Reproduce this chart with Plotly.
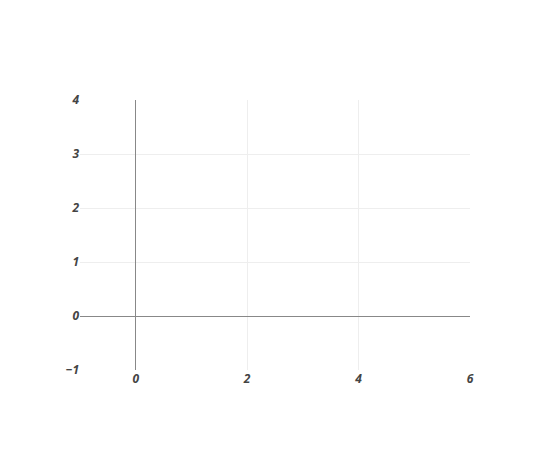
import plotly.graph_objects as go

x_values = []
y_values = []
x_range = [-1, 6]
y_range = [-1, 4]

fig = go.Figure(go.Scatter(x=x_values, y=y_values, mode="markers"))
tickfont = dict(family="Open Sans", size=12, color="#444", weight="bold", style="italic")
fig.update_layout(
    width=550, height=450,
    margin=dict(l=72, r=88, t=92, b=88),
    paper_bgcolor="white", plot_bgcolor="white",
    showlegend=False,
    xaxis=dict(range=x_range, dtick=2, tick0=0, showgrid=True, gridcolor="#eee",
               zeroline=True, zerolinecolor="#888", zerolinewidth=1, tickfont=tickfont),
    yaxis=dict(range=y_range, dtick=1, showgrid=True, gridcolor="#eee",
               zeroline=True, zerolinecolor="#888", zerolinewidth=1, tickfont=tickfont),
)
fig.write_html("out.html")
